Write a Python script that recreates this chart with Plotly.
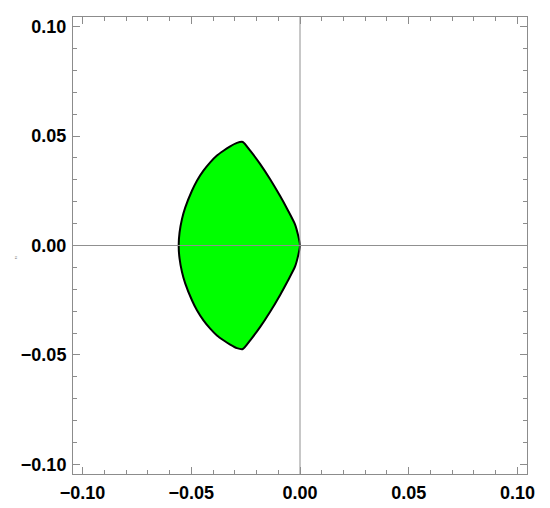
import plotly.graph_objects as go

# upper half of the region's boundary
# right edge: from the origin up to the top tip
x_right_upper = [0.0, -0.0008, -0.0023, -0.0054, -0.0092, -0.0138, -0.0183, -0.0229, -0.0263]
y_right_upper = [0.0, 0.0044, 0.0097, 0.0158, 0.0227, 0.0304, 0.0372, 0.0433, 0.0473]
# left arc: from the tip down to the real axis
x_left_upper = [-0.0290, -0.0321, -0.0352, -0.0382, -0.0413, -0.0444, -0.0474,
                -0.0497, -0.0528, -0.0543, -0.0554, -0.0558]
y_left_upper = [0.0469, 0.0453, 0.0433, 0.0411, 0.0380, 0.0342, 0.0296,
                0.0250, 0.0173, 0.0120, 0.0059, 0.0]

tick_vals = [-0.10, -0.05, 0.00, 0.05, 0.10]
tick_text = ["\u22120.10", "\u22120.05", "0.00", "0.05", "0.10"]
lim = 0.1044

# region is symmetric about the real axis: mirror the upper half
xu = x_right_upper + x_left_upper
yu = y_right_upper + y_left_upper
xs = xu + xu[-2::-1]
ys = yu + [-v for v in yu[-2::-1]]

fig = go.Figure()
fig.add_trace(go.Scatter(
    x=xs, y=ys, mode='lines', fill='toself',
    fillcolor='rgb(0,255,0)',
    line=dict(color='black', width=2, shape='spline', smoothing=0.5),
    hoverinfo='skip', showlegend=False))

frame_col = '#8c8c8c'
axis_style = dict(
    range=[-lim, lim], tickvals=tick_vals, ticktext=[f'<b>{t}</b>' for t in tick_text],
    ticks='inside', ticklen=7, tickcolor=frame_col, tickwidth=1,
    minor=dict(ticks='inside', dtick=0.01, tick0=0, ticklen=4, tickcolor=frame_col),
    showline=True, linecolor=frame_col, linewidth=1, mirror='allticks',
    showgrid=False, zeroline=False, automargin=False,
    tickfont=dict(family='Liberation Sans', size=18, color='black'),
)
fig.update_xaxes(**axis_style, ticklabelstandoff=2)
fig.update_yaxes(**axis_style, ticklabelstandoff=2)

# axes through the origin, drawn above the filled region
fig.add_shape(type='line', x0=-lim, x1=lim, y0=0, y1=0, xref='x', yref='y',
              line=dict(color='#909090', width=1), layer='above')
fig.add_shape(type='line', x0=0, x1=0, y0=-lim, y1=lim, xref='x', yref='y',
              line=dict(color='#909090', width=1), layer='above')

# empty axis label shows up as a rotated pair of quotes
fig.add_annotation(text='"', x=-0.138, y=0.473, xref='paper', yref='paper',
                   showarrow=False, textangle=-90,
                   font=dict(size=9, color='#999999', family='Liberation Sans'))

# page body has an 8px margin, so shift the plot area by that much
fig.update_layout(
    width=542, height=500,
    margin=dict(l=65, r=23, t=9, b=34),
    paper_bgcolor='white', plot_bgcolor='white',
)

fig.write_html("out.html")
